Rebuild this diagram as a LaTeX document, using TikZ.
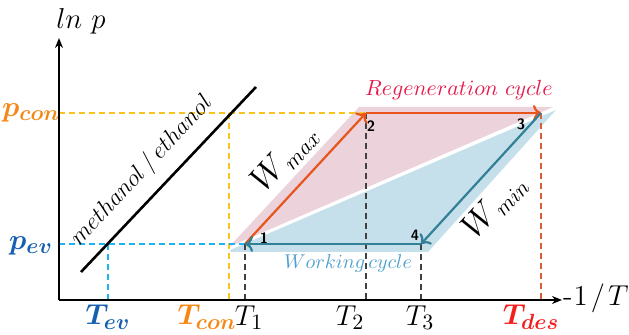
\documentclass[tikz,border=0pt]{standalone}
\usepackage{amsmath,bm}
\usetikzlibrary{arrows.meta}
\definecolor{pinkfill}{RGB}{235,210,219}
\definecolor{bluefill}{RGB}{198,224,235}
\definecolor{orgarr}{RGB}{232,85,28}
\definecolor{tealarr}{RGB}{50,128,150}
\definecolor{gold}{RGB}{250,195,30}
\definecolor{cyanl}{RGB}{30,180,240}
\definecolor{tdes}{RGB}{215,95,55}
\definecolor{labor}{RGB}{245,135,20}
\definecolor{labbl}{RGB}{20,95,175}
\definecolor{labred}{RGB}{245,30,30}
\definecolor{regen}{RGB}{230,25,75}
\definecolor{work}{RGB}{80,160,205}
\tikzset{
  axis/.style={line width=1.2pt,-{Stealth[length=5pt,width=4pt]}},
  guide/.style={dashed,line width=0.6pt,dash pattern=on 3pt off 2pt},
  orgline/.style={orgarr,line width=1.1pt,-{To[length=4pt,width=8pt]}},
  tealline/.style={tealarr,line width=1.1pt,-{To[length=4pt,width=8pt]}},
  ptlab/.style={font=\sffamily\bfseries\fontsize{7.5}{8}\selectfont},
  tick/.style={font=\fontsize{15}{17}\selectfont},
}
\begin{document}
\begin{tikzpicture}[x=0.5pt,y=-0.5pt]
\useasboundingbox (0,0) rectangle (629,335);
% shaded regions
\fill[pinkfill] (229,247) -- (359,107) -- (553,107) -- cycle;
\fill[bluefill] (230,250) -- (556,110) -- (428,252) -- (231,252) -- cycle;
\draw[white,line width=1.2pt] (226,250) -- (558,107);
% points
\coordinate (p1) at (245,244);
\coordinate (p2) at (366,113);
\coordinate (p3) at (541,113);
\coordinate (p4) at (421,244);
\coordinate (o) at (59,300);
\coordinate (ytop) at (59,38);
\coordinate (xend) at (562,300);
% guide lines
\coordinate (pc) at (59,113);
\coordinate (pe) at (59,244);
\coordinate (tc) at (229,300);
\coordinate (tcu) at (229,113);
\coordinate (te) at (108,300);
\coordinate (teu) at (108,244);
\draw[guide,gold] (pc) -- (p2);
\draw[guide,gold] (tcu) -- (tc);
\draw[guide,cyanl] (pe) -- (p1);
\draw[guide,cyanl] (teu) -- (te);
\draw[guide,black!75] (p1) -- (p1 |- o);
\draw[guide,black!75] (p2) -- (p2 |- o);
\draw[guide,black!75] (p4) -- (p4 |- o);
\draw[guide,tdes] (p3) -- (p3 |- o);
% axes
\draw[axis] (o) -- (ytop);
\draw[axis] (o) -- (xend);
\node[font=\fontsize{14}{16}\selectfont] (ylab) at (81,21) {$ln\ p$};
\node[font=\fontsize{14.5}{17}\selectfont,anchor=east,inner sep=0pt] (xlab) at (629,298) {-\kern0.5pt$1\mkern2mu/\mkern2mu T$};
% methanol line
\coordinate (m1) at (81,272);
\coordinate (m2) at (256,87);
\draw[line width=1.3pt] (m1) -- (m2);
\node[rotate=47,font=\fontsize{11.5}{13}\selectfont] (meth) at (142,171) {$methanol\,/\,ethanol$};
% cycle arrows
\draw[orgline] (p1) -- (p2);
\draw[orgline] (p2) -- (p3);
\draw[tealline] (p3) -- (p4);
\draw[tealline] (p4) -- (p1);
% point labels
\node[ptlab] (l1) at (264,238) {1};
\node[ptlab] (l2) at (371,126) {2};
\node[ptlab] (l3) at (521,124) {3};
\node[ptlab] (l4) at (415,235) {4};
% cycle names
\node[regen,font=\fontsize{10.5}{12}\selectfont] (rc) at (459,90) {$Regeneration\ cycle$};
\node[work,font=\fontsize{10}{12}\selectfont] (wc) at (348,264) {$Working\,cycle$};
% W labels
\node[rotate=47,font=\fontsize{16}{18}\selectfont] (wmax) at (285,158) {$W_{\,max}$};
\node[rotate=47,font=\fontsize{16}{18}\selectfont] (wmin) at (495,206) {$W_{\,min}$};
% axis tick labels
\node[tick,labor] (pcon) at (31,113) {$\bm{p_{con}}$};
\node[tick,labbl] (pev) at (31,246) {$\bm{p_{ev}}$};
\node[tick,labbl] (tev) at (108,317) {$\bm{T_{ev}}$};
\node[tick,labor] (tcon) at (207,317) {$\bm{T_{con}}$};
\node[tick] (t1) at (249,318) {$T_1$};
\node[tick] (t2) at (350,318) {$T_2$};
\node[tick] (t3) at (420,318) {$T_3$};
\node[tick,labred] (tdesl) at (531,317) {$\bm{T_{des}}$};
\end{tikzpicture}
\end{document}
